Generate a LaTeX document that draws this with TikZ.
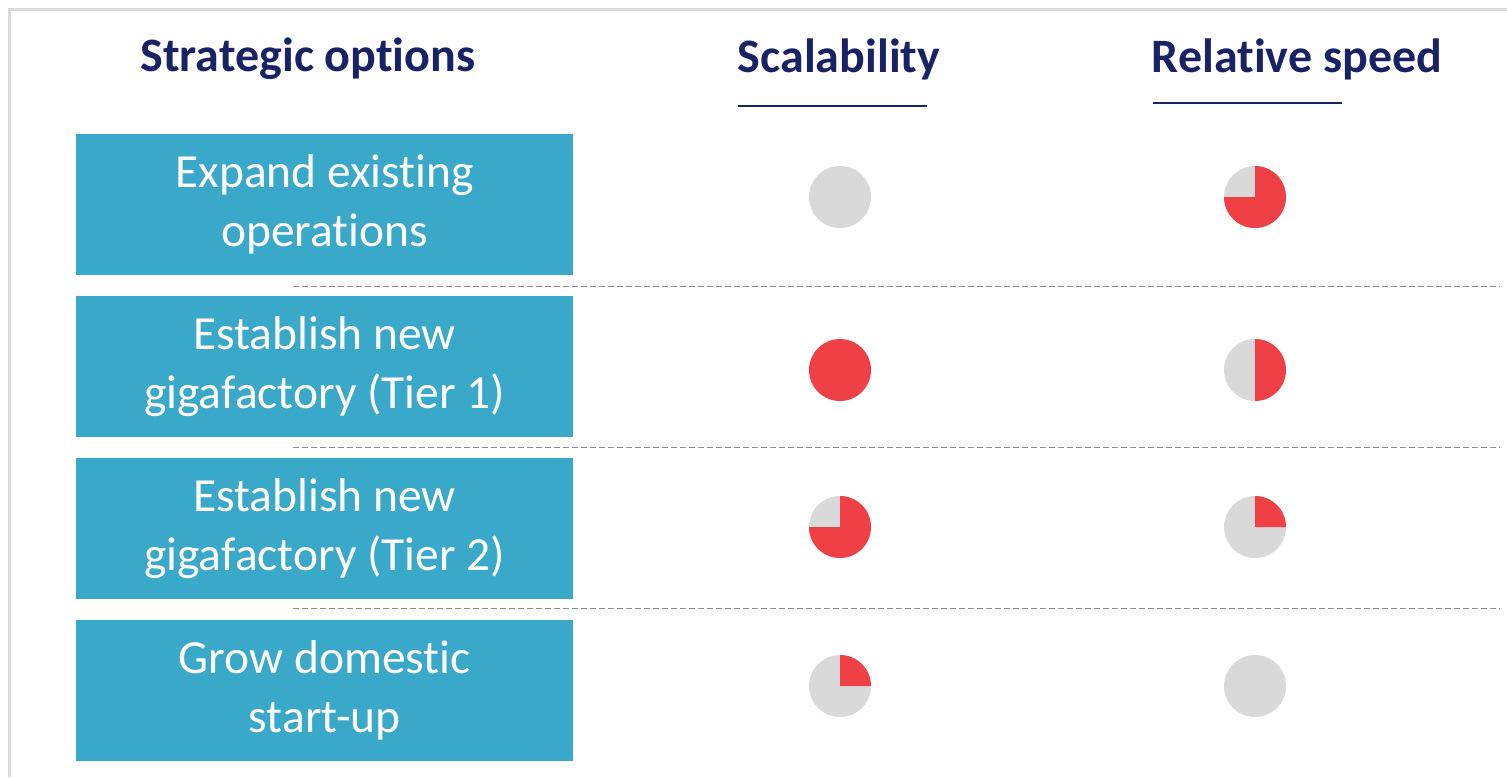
\documentclass[tikz,border=0pt]{standalone}
\usepackage{fontspec}
\setmainfont{Carlito}[Ligatures=NoCommon]
\definecolor{navy}{HTML}{1A2266}
\definecolor{teal}{HTML}{3AA8C8}
\definecolor{pgray}{HTML}{D9D9D9}
\definecolor{pred}{HTML}{EE4045}
\definecolor{dgray}{HTML}{8C8C8C}
\begin{document}
\begin{tikzpicture}[x=1pt,y=-1pt,
  head/.style={text=navy,font=\fontsize{48}{56}\selectfont\bfseries,anchor=center},
  optbox/.style={fill=teal,minimum width=497pt,minimum height=141pt,text=white,
     font=\fontsize{47.5}{59}\selectfont,align=center,inner sep=0pt,anchor=north west},
  uline/.style={navy,line width=1.6pt},
  sep/.style={dgray,dashed,line width=1pt,dash pattern=on 6pt off 3pt},
  frame/.style={pgray,line width=3.5pt}]
\useasboundingbox (0,0) rectangle (1507,777);
\draw[frame] (9.5,777) -- (9.5,9.5) -- (1507,9.5);
% headers
\node[head] (h1) at (308,59) {Strategic options};
\node[head] (h2) at (839,59) {Scalability};
\node[head] (h3) at (1297,59) {Relative speed};
\draw[uline] (738,106) -- (927,106);
\draw[uline] (1153,103) -- (1342,103);
% boxes
\node[optbox] (b1) at (76,134) {Expand existing\\operations};
\node[optbox] (b2) at (76,296) {Establish new\\gigafactory (Tier 1)};
\node[optbox] (b3) at (76,458) {Establish new\\gigafactory (Tier 2)};
\node[optbox] (b4) at (76,620) {Grow domestic\\start-up};
% separators
\draw[sep] (293,286) -- (1500,286);
\draw[sep] (293,447) -- (1500,447);
\draw[sep] (293,608) -- (1500,608);
% pies: full gray base then red sectors
\def\R{31}
% row 1
\fill[pgray] (840,197) circle (\R);
\fill[pgray] (1255,197) circle (\R);
\fill[pred] (1255,197) -- (1255,166) arc[start angle=-90,end angle=180,radius=\R] -- cycle;
% row 2
\fill[pred] (840,370) circle (\R);
\fill[pgray] (1255,370) circle (\R);
\fill[pred] (1255,370) -- (1255,339) arc[start angle=-90,end angle=90,radius=\R] -- cycle;
% row 3
\fill[pgray] (840,527) circle (\R);
\fill[pred] (840,527) -- (840,496) arc[start angle=-90,end angle=180,radius=\R] -- cycle;
\fill[pgray] (1255,527) circle (\R);
\fill[pred] (1255,527) -- (1255,496) arc[start angle=-90,end angle=0,radius=\R] -- cycle;
% row 4
\fill[pgray] (840,686) circle (\R);
\fill[pred] (840,686) -- (840,655) arc[start angle=-90,end angle=0,radius=\R] -- cycle;
\fill[pgray] (1255,686) circle (\R);
\end{tikzpicture}
\end{document}
